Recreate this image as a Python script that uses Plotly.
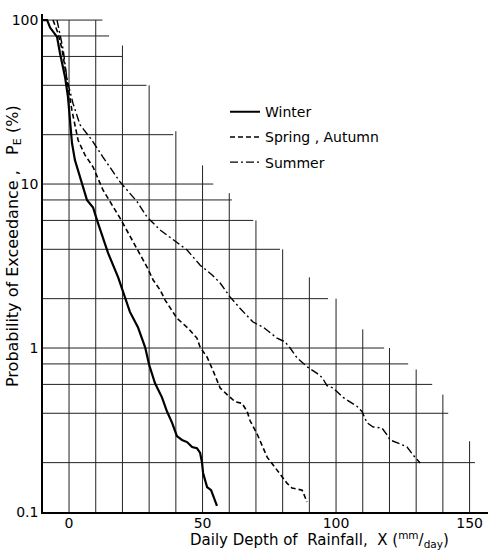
import plotly.graph_objects as go

# ---------------- data ----------------
winter_x = [-10, -8.2, -7.1, -4.5, -3.4, -1.5, -0.4, 0.4, 1.1, 2.2, 4.9, 6.7, 9.0, 10.5,
            14.6, 18.4, 22.8, 25.8, 28.5, 30.0, 32.2, 34.8, 36.7, 38.6, 40.4, 42.3, 44.2,
            46.1, 47.9, 49.1, 49.8, 50.2, 51.7, 53.2, 55.4]
winter_y = [100, 100, 90, 79, 63, 45, 34, 24.5, 17.8, 14, 10.1, 8.0, 7.2, 6.0,
            3.8, 2.7, 1.66, 1.34, 1.01, 0.79, 0.61, 0.50, 0.41, 0.35, 0.29, 0.275, 0.267,
            0.249, 0.245, 0.229, 0.20, 0.173, 0.142, 0.136, 0.109]

spring_x = [-6, -4.1, -2.6, -0.7, 1.1, 3.4, 6.0, 9.0, 12.7, 19.1, 23.6, 29.2, 31.5, 34.1,
            36.0, 40.4, 44.6, 47.9, 49.1, 51.7, 53.9, 56.6, 59.2, 62.2, 64.8, 66.7, 67.8,
            70.4, 74.2, 77.9, 79.8, 81.6, 83.5, 87.3, 88.4, 89.1]
spring_y = [100, 83, 66, 43, 28, 18.5, 15, 12.7, 9.2, 6.2, 4.56, 3.12, 2.6, 2.26,
            1.96, 1.52, 1.32, 1.15, 1.01, 0.88, 0.73, 0.57, 0.52, 0.47, 0.46, 0.41, 0.36,
            0.30, 0.216, 0.18, 0.163, 0.15, 0.14, 0.136, 0.123, 0.115]

summer_x = [-4.5, -3.4, -2.2, -0.7, 1.5, 4.1, 8.6, 12.7, 19.1, 25.5, 29.2, 34.1, 39.0,
            44.2, 49.1, 53.6, 56.6, 60.3, 64.0, 68.9, 72.7, 77.9, 80.9, 82.8, 85.4, 89.1,
            92.9, 94.8, 96.6, 98.9, 102.6, 107.9, 109.7, 111.6, 113.9, 117.2, 119.1, 120.2,
            124.0, 126.6, 128.8, 131.5]
summer_y = [100, 83, 66, 43, 31, 23, 18.5, 14.6, 10.3, 7.8, 6.3, 5.25, 4.56,
            3.96, 3.2, 2.79, 2.49, 2.05, 1.75, 1.44, 1.34, 1.15, 1.09, 1.0, 0.87, 0.77,
            0.70, 0.66, 0.59, 0.57, 0.50, 0.44, 0.41, 0.35, 0.33, 0.325, 0.295, 0.275,
            0.26, 0.249, 0.223, 0.199]

series_names = ["Winter", "Spring , Autumn", "Summer"]

x_tick_vals = [0, 50, 100, 150]
x_tick_text = ["0", "50", "100", "150"]
y_tick_vals = [0.1, 1, 10, 100]
y_tick_text = ["0.1", "1", "10", "100"]

# staircase grid of the probability paper
hgrid_levels = [100, 80, 60, 40, 20, 10, 8, 6, 4, 2, 1, 0.8, 0.6, 0.4, 0.2]
hgrid_ends = [12.5, 15, 20, 29, 39, 54, 61, 69, 79, 97, 118, 127, 136, 142, 152]
vgrid_levels = [0, 10, 20, 30, 40, 50, 60, 70, 80, 90, 100, 110, 120, 130, 140, 150]
vgrid_tops = [100, 100, 70, 40, 21, 13, 8.8, 6, 4, 2.7, 2, 1.3, 1, 0.74, 0.52, 0.27]

X_MIN, X_MAX = -9.75, 156.9
Y_MIN = 0.1

# ---------------- figure ----------------
fig = go.Figure()

gx, gy = [], []
for lv, end in zip(hgrid_levels, hgrid_ends):
    gx += [X_MIN, end, None]
    gy += [lv, lv, None]
for lv, top in zip(vgrid_levels, vgrid_tops):
    gx += [lv, lv, None]
    gy += [Y_MIN, top, None]
fig.add_trace(go.Scatter(x=gx, y=gy, mode="lines", line=dict(color="#222", width=1),
                         hoverinfo="skip", showlegend=False))

styles = [dict(color="black", width=2.2, dash="solid"),
          dict(color="black", width=1.6, dash="5px,3px"),
          dict(color="black", width=1.4, dash="8px,3px,2px,3px")]
for i, (xs, ys) in enumerate([(winter_x, winter_y), (spring_x, spring_y), (summer_x, summer_y)]):
    fig.add_trace(go.Scatter(x=xs, y=ys, mode="lines", name=series_names[i],
                             line=styles[i], legendgroup=f"g{i}"))

FONT = "DejaVu Sans"
fig.update_layout(
    width=488, height=552,
    margin=dict(l=43, r=0, t=14, b=40),
    paper_bgcolor="white", plot_bgcolor="white",
    font=dict(family=FONT, size=13, color="black"),
    showlegend=True,
    legend=dict(x=0.409, y=0.835, xanchor="left", yanchor="top",
                bgcolor="rgba(0,0,0,0)", tracegroupgap=4,
                font=dict(family=FONT, size=14, color="black")),
    xaxis=dict(range=[X_MIN, X_MAX], showgrid=False, zeroline=False,
               showline=True, linecolor="black", linewidth=1.5,
               tickvals=x_tick_vals, ticktext=x_tick_text, ticks="",
               ticklabelstandoff=-3,
               tickfont=dict(family=FONT, size=14, color="black")),
    yaxis=dict(type="log", range=[-1, 2.037], showgrid=False, zeroline=False,
               showline=True, linecolor="black", linewidth=1.5,
               tickvals=y_tick_vals, ticktext=y_tick_text, ticks="",
               tickfont=dict(family=FONT, size=14, color="black")),
    annotations=[
        dict(text="Daily Depth of  Rainfall,  X (<sup>mm</sup>/<sub>day</sub>)",
             xref="paper", yref="paper", x=(319 - 43) / 445, y=-(552 - 512) / 498,
             xanchor="center", yanchor="bottom", showarrow=False,
             font=dict(family=FONT, size=15, color="black")),
        dict(text="Probability of Exceedance ,   P<sub>E</sub> (%)",
             xref="paper", yref="paper", x=-(43 - 13) / 445, y=1 - (246 - 14) / 498,
             xanchor="center", yanchor="middle", textangle=-90, showarrow=False,
             font=dict(family=FONT, size=16, color="black")),
    ],
)

fig.write_html("out.html")
